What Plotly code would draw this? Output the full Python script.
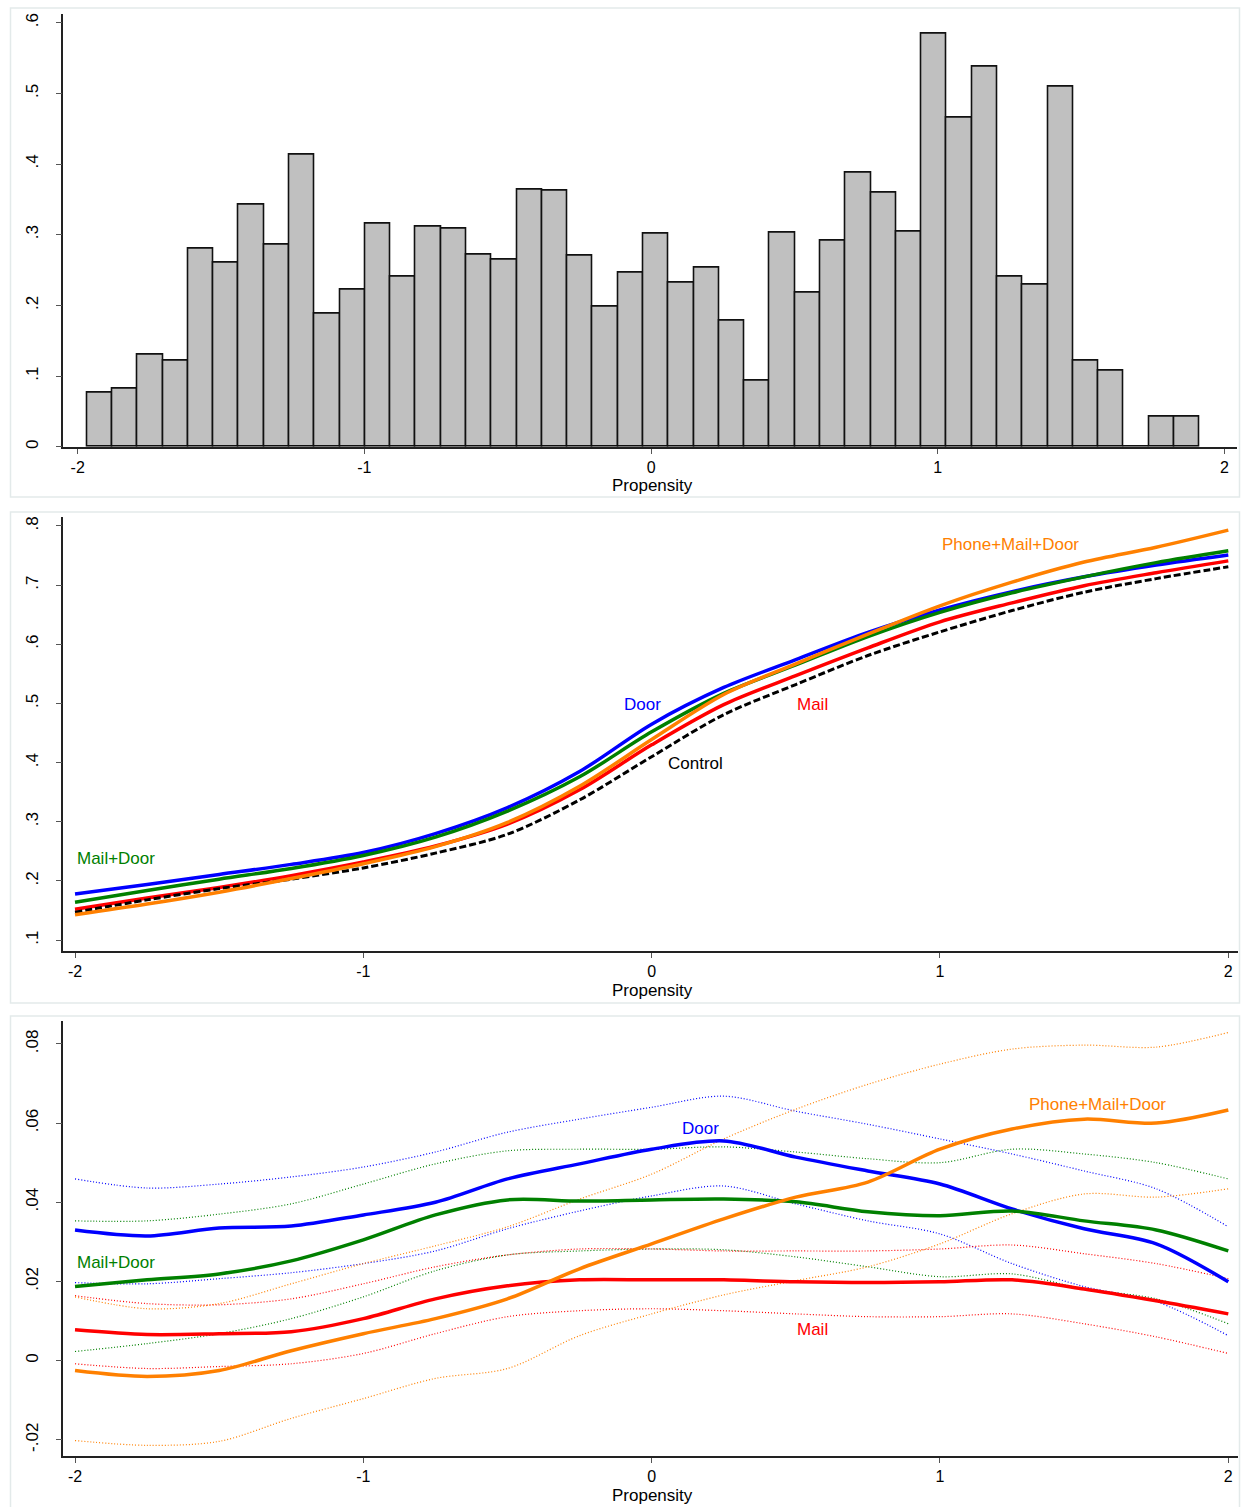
import numpy as np
import plotly.graph_objects as go

W, H = 1241, 1507

# ---------------- data ----------------
# Panel 1: histogram of propensity (density)
bin_start = -1.9676
bin_width = 0.0882
hist_density = [0.077, 0.082, 0.130, 0.122, 0.280, 0.260, 0.342, 0.286, 0.413, 0.189,
                0.222, 0.315, 0.241, 0.311, 0.309, 0.272, 0.265, 0.364, 0.363, 0.271,
                0.198, 0.246, 0.302, 0.232, 0.254, 0.178, 0.093, 0.303, 0.218, 0.291,
                0.388, 0.360, 0.305, 0.585, 0.466, 0.538, 0.240, 0.230, 0.510, 0.122,
                0.107, 0.0, 0.043, 0.043]

# Panel 2: predicted turnout by propensity
x_grid = [-2, -1.75, -1.5, -1.25, -1, -0.75, -0.5, -0.25, 0, 0.25, 0.5, 0.75, 1, 1.25, 1.5, 1.75, 2]
p2_door = [0.178, 0.194, 0.211, 0.228, 0.248, 0.280, 0.324, 0.385, 0.465, 0.527, 0.574, 0.620, 0.658, 0.689, 0.714, 0.734, 0.751]
p2_maildoor = [0.164, 0.184, 0.203, 0.221, 0.243, 0.274, 0.318, 0.376, 0.452, 0.517, 0.565, 0.613, 0.654, 0.687, 0.714, 0.738, 0.758]
p2_mail = [0.152, 0.171, 0.189, 0.209, 0.232, 0.259, 0.296, 0.354, 0.430, 0.498, 0.547, 0.594, 0.638, 0.670, 0.699, 0.721, 0.741]
p2_control = [0.147, 0.168, 0.187, 0.203, 0.222, 0.247, 0.279, 0.337, 0.410, 0.481, 0.532, 0.581, 0.621, 0.657, 0.688, 0.711, 0.731]
p2_pmd = [0.143, 0.161, 0.181, 0.204, 0.229, 0.258, 0.299, 0.360, 0.439, 0.515, 0.567, 0.617, 0.665, 0.705, 0.739, 0.764, 0.793]

# Panel 3: treatment effects with confidence bands
p3_door = [0.0330, 0.0315, 0.0335, 0.0340, 0.0368, 0.0400, 0.0459, 0.0497, 0.0534, 0.0555, 0.0514, 0.0479, 0.0446, 0.0383, 0.0333, 0.0295, 0.0199]
p3_door_hi = [0.0459, 0.0436, 0.0446, 0.0464, 0.0489, 0.0527, 0.0577, 0.0610, 0.0640, 0.0668, 0.0630, 0.0597, 0.0560, 0.0522, 0.0479, 0.0434, 0.0338]
p3_door_lo = [0.0197, 0.0194, 0.0207, 0.0222, 0.0245, 0.0277, 0.0333, 0.0378, 0.0416, 0.0441, 0.0396, 0.0353, 0.0320, 0.0245, 0.0187, 0.0149, 0.0063]

p3_maildoor = [0.0187, 0.0204, 0.0219, 0.0252, 0.0305, 0.0368, 0.0406, 0.0403, 0.0406, 0.0408, 0.0401, 0.0376, 0.0366, 0.0378, 0.0353, 0.0330, 0.0277]
p3_maildoor_hi = [0.0353, 0.0353, 0.0370, 0.0396, 0.0446, 0.0497, 0.0530, 0.0534, 0.0534, 0.0540, 0.0527, 0.0510, 0.0500, 0.0534, 0.0522, 0.0500, 0.0459]
p3_maildoor_lo = [0.0023, 0.0043, 0.0068, 0.0106, 0.0161, 0.0227, 0.0267, 0.0277, 0.0282, 0.0280, 0.0262, 0.0237, 0.0212, 0.0219, 0.0181, 0.0156, 0.0093]

p3_mail = [0.0078, 0.0066, 0.0068, 0.0073, 0.0106, 0.0156, 0.0189, 0.0204, 0.0204, 0.0204, 0.0199, 0.0197, 0.0199, 0.0204, 0.0181, 0.0151, 0.0118]
p3_mail_hi = [0.0164, 0.0144, 0.0141, 0.0156, 0.0194, 0.0237, 0.0267, 0.0282, 0.0282, 0.0277, 0.0277, 0.0277, 0.0282, 0.0292, 0.0270, 0.0245, 0.0207]
p3_mail_lo = [-0.0008, -0.0020, -0.0015, -0.0008, 0.0018, 0.0068, 0.0111, 0.0126, 0.0131, 0.0126, 0.0118, 0.0111, 0.0111, 0.0118, 0.0093, 0.0060, 0.0018]

p3_pmd = [-0.0025, -0.0040, -0.0025, 0.0025, 0.0068, 0.0106, 0.0156, 0.0232, 0.0295, 0.0358, 0.0413, 0.0451, 0.0534, 0.0585, 0.0610, 0.0600, 0.0633]
p3_pmd_hi = [0.0161, 0.0131, 0.0144, 0.0194, 0.0245, 0.0290, 0.0338, 0.0408, 0.0471, 0.0560, 0.0635, 0.0698, 0.0749, 0.0787, 0.0797, 0.0792, 0.0829]
p3_pmd_lo = [-0.0202, -0.0214, -0.0204, -0.0146, -0.0096, -0.0045, -0.0020, 0.0063, 0.0118, 0.0166, 0.0202, 0.0237, 0.0295, 0.0371, 0.0421, 0.0413, 0.0434]

x_ticks = [-2, -1, 0, 1, 2]
x_ticktext = ["-2", "-1", "0", "1", "2"]
y1_ticks = [0, 0.1, 0.2, 0.3, 0.4, 0.5, 0.6]
y1_ticktext = ["0", ".1", ".2", ".3", ".4", ".5", ".6"]
y2_ticks = [0.1, 0.2, 0.3, 0.4, 0.5, 0.6, 0.7, 0.8]
y2_ticktext = [".1", ".2", ".3", ".4", ".5", ".6", ".7", ".8"]
y3_ticks = [-0.02, 0, 0.02, 0.04, 0.06, 0.08]
y3_ticktext = ["-.02", "0", ".02", ".04", ".06", ".08"]

# ---------------- styles ----------------
BLUE = "#0000ff"
GREEN = "#008000"
RED = "#ff0000"
ORANGE = "#ff8000"
BLACK = "#000000"
FONT = "Liberation Sans, Arial, sans-serif"
FS = 17

fig = go.Figure()

# Panel 1 histogram
centers = bin_start + bin_width * (np.arange(len(hist_density)) + 0.5)
fig.add_trace(go.Bar(x=centers, y=hist_density, width=bin_width,
                     marker=dict(color="#c0c0c0", line=dict(color="#111111", width=1.6)),
                     xaxis="x", yaxis="y", showlegend=False))

def line(x, y, color, xa, ya, width=3.5, dash="solid"):
    fig.add_trace(go.Scatter(x=x, y=y, mode="lines",
                             line=dict(color=color, width=width, dash=dash, shape="spline", smoothing=0.9),
                             xaxis=xa, yaxis=ya, showlegend=False, hoverinfo="skip"))

# Panel 2 lines
line(x_grid, p2_door, BLUE, "x2", "y2")
line(x_grid, p2_maildoor, GREEN, "x2", "y2")
line(x_grid, p2_mail, RED, "x2", "y2")
line(x_grid, p2_control, BLACK, "x2", "y2", width=3, dash="7px,3px")
line(x_grid, p2_pmd, ORANGE, "x2", "y2")

# Panel 3 dotted bands
for y, c in [(p3_door_hi, BLUE), (p3_door_lo, BLUE), (p3_maildoor_hi, GREEN), (p3_maildoor_lo, GREEN),
             (p3_mail_hi, RED), (p3_mail_lo, RED), (p3_pmd_hi, ORANGE), (p3_pmd_lo, ORANGE)]:
    line(x_grid, y, c, "x3", "y3", width=1.2, dash="1px,2px")
line(x_grid, p3_door, BLUE, "x3", "y3")
line(x_grid, p3_maildoor, GREEN, "x3", "y3")
line(x_grid, p3_mail, RED, "x3", "y3")
line(x_grid, p3_pmd, ORANGE, "x3", "y3")

def xd(l, r):
    return [l / W, r / W]

def yd(top, bottom):
    return [1 - bottom / H, 1 - top / H]

axis_common = dict(showgrid=False, zeroline=False, showline=True, linecolor="#222222", linewidth=1.5,
                   ticks="outside", tickcolor="#555555", tickwidth=1)
xtick = dict(ticklen=5, tickfont=dict(family=FONT, size=16, color="#000000"), ticklabelstandoff=0)
ytick = dict(ticklen=6, tickfont=dict(family=FONT, size=FS, color="#000000"), tickangle=-90, ticklabelstandoff=11)

fig.update_layout(
    width=W, height=H, margin=dict(l=0, r=0, t=0, b=0),
    paper_bgcolor="white", plot_bgcolor="white", bargap=0,
    font=dict(family=FONT, size=FS, color="#000000"),
    xaxis=dict(domain=xd(63.3, 1237), range=[-2.0502, 2.0436], tickvals=x_ticks, ticktext=x_ticktext,
               anchor="y", **axis_common, **xtick),
    yaxis=dict(domain=yd(12.7, 446.7), range=[0, 0.6127], tickvals=y1_ticks, ticktext=y1_ticktext,
               anchor="x", **axis_common, **ytick),
    xaxis2=dict(domain=xd(63.3, 1238.3), range=[-2.0406, 2.0347], tickvals=x_ticks, ticktext=x_ticktext,
                anchor="y2", **axis_common, **xtick),
    yaxis2=dict(domain=yd(516.7, 952.3), range=[0.0809, 0.8157], tickvals=y2_ticks, ticktext=y2_ticktext,
                anchor="x2", **axis_common, **ytick),
    xaxis3=dict(domain=xd(63.3, 1238.3), range=[-2.0406, 2.0347], tickvals=x_ticks, ticktext=x_ticktext,
                anchor="y3", **axis_common, **xtick),
    yaxis3=dict(domain=yd(1022, 1458.3), range=[-0.0242, 0.0858], tickvals=y3_ticks, ticktext=y3_ticktext,
                anchor="x3", **axis_common, **ytick),
)

# Panel frames
frame = dict(type="rect", xref="paper", yref="paper", line=dict(color="#e3eaea", width=1.5),
             fillcolor="rgba(0,0,0,0)", layer="below")
for top, bottom in [(7, 497), (512, 1004), (1017, 1520)]:
    fig.add_shape(x0=10.5 / W, x1=1239.5 / W, y0=1 - bottom / H, y1=1 - top / H, **frame)

# Axis titles
for ypix in [485, 991, 1497]:
    fig.add_annotation(text="Propensity", xref="paper", yref="paper", x=652 / W, y=1 - ypix / H,
                       showarrow=False, xanchor="center", yanchor="middle", font=dict(size=FS, family=FONT))

# Series labels
def lab(text, x, y, color, xa, ya):
    fig.add_annotation(text=text, x=x, y=y, xref=xa, yref=ya, showarrow=False, xanchor="left", yanchor="middle",
                       font=dict(size=FS, family=FONT, color=color))

lab("Mail+Door", -2.0, 0.238, GREEN, "x2", "y2")
lab("Door", -0.103, 0.498, BLUE, "x2", "y2")
lab("Mail", 0.497, 0.498, RED, "x2", "y2")
lab("Control", 0.05, 0.398, BLACK, "x2", "y2")
lab("Phone+Mail+Door", 1.0, 0.768, ORANGE, "x2", "y2")

lab("Door", 0.0985, 0.0587, BLUE, "x3", "y3")
lab("Mail+Door", -2.0, 0.0247, GREEN, "x3", "y3")
lab("Mail", 0.497, 0.0078, RED, "x3", "y3")
lab("Phone+Mail+Door", 1.302, 0.0648, ORANGE, "x3", "y3")

fig.write_html("out.html")
